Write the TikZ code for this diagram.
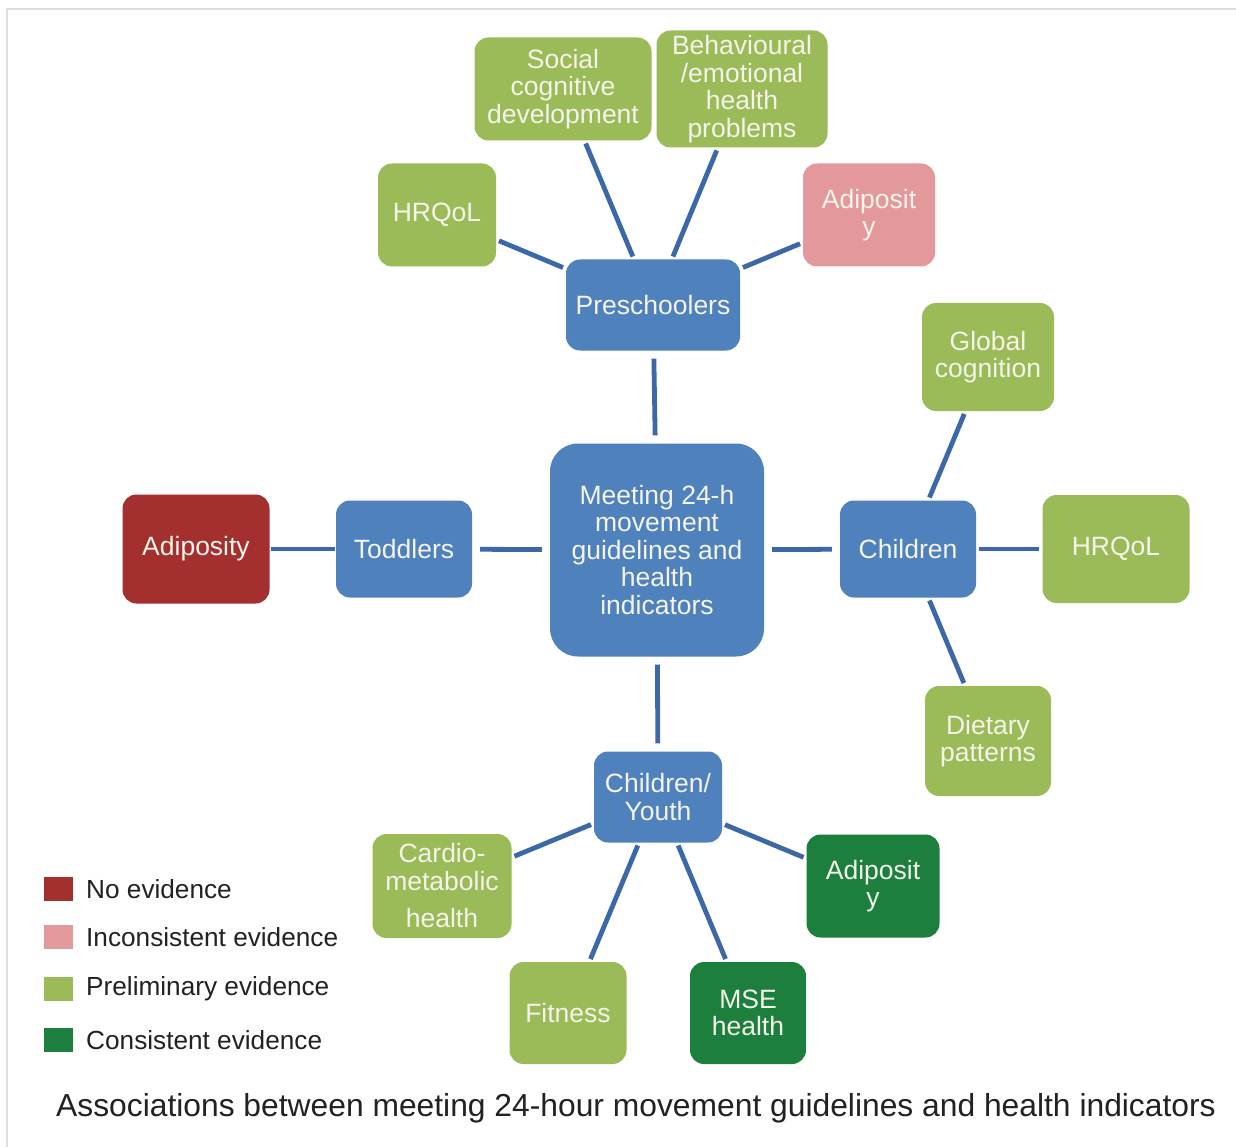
\documentclass[tikz,border=0pt]{standalone}
\usepackage{fontspec}
\setmainfont{Liberation Sans}
\definecolor{boxblue}{HTML}{4F81BD}
\definecolor{linkblue}{HTML}{3D68A8}
\definecolor{lgreen}{HTML}{9BBB59}
\definecolor{dgreen}{HTML}{1C7F3D}
\definecolor{pinkc}{HTML}{E3999B}
\definecolor{dred}{HTML}{A3302F}
\definecolor{boxtext}{HTML}{F4F4EA}
\definecolor{legtext}{HTML}{222222}
\definecolor{framec}{HTML}{DDDDDD}
\begin{document}
\begin{tikzpicture}[x=1pt,y=-1pt,
  box/.style={rounded corners=14pt, text=boxtext, align=center, inner sep=0pt,
    font=\fontsize{26.5}{27.5}\selectfont},
  bluebox/.style={box, fill=boxblue},
  lgbox/.style={box, fill=lgreen},
  dgbox/.style={box, fill=dgreen},
  pkbox/.style={box, fill=pinkc},
  rdbox/.style={box, fill=dred},
  link/.style={draw=linkblue, line width=4.8pt, shorten >=3pt, shorten <=3pt},
  axis/.style={draw=linkblue, line width=4.8pt, shorten >=8pt, shorten <=8pt},
  legsq/.style={minimum width=29pt, minimum height=24pt, inner sep=0pt},
  legtxt/.style={anchor=west, text=legtext, inner sep=0pt, font=\fontsize{26.2}{28}\selectfont}
]
\useasboundingbox (0,0) rectangle (1236,1147);
\fill[white] (0,0) rectangle (1236,1147);
\draw[framec, line width=1.5pt] (7,1147) -- (7,9) -- (1236,9);

% central
\node[bluebox, minimum width=214pt, minimum height=213pt, rounded corners=28pt] (c) at (657,550)
  {Meeting 24-h\\movement\\guidelines and\\health\\indicators};

% age groups
\node[bluebox, minimum width=174pt, minimum height=91pt] (pre) at (653,305) {Preschoolers};
\node[bluebox, minimum width=136pt, minimum height=97pt] (tod) at (404,549) {Toddlers};
\node[bluebox, minimum width=136pt, minimum height=97pt] (chi) at (908,549) {Children};
\node[bluebox, minimum width=128pt, minimum height=91pt] (cy) at (658,797) {Children/\\Youth};

% preschooler outcomes
\node[lgbox, minimum width=177pt, minimum height=103pt] (soc) at (563,89) {Social\\cognitive\\development};
\node[lgbox, minimum width=171pt, minimum height=117pt] (beh) at (742,89) {Behavioural\\/emotional\\health\\problems};
\node[lgbox, minimum width=118pt, minimum height=103pt] (hq1) at (437,215) {HRQoL};
\node[pkbox, minimum width=132pt, minimum height=103pt] (adp) at (869,215) {Adiposit\\y};

% toddler outcomes
\node[rdbox, minimum width=147pt, minimum height=109pt] (adr) at (196,549) {Adiposity};

% children outcomes
\node[lgbox, minimum width=132pt, minimum height=108pt] (glo) at (988,357) {Global\\cognition};
\node[lgbox, minimum width=147pt, minimum height=108pt] (hq2) at (1116,549) {HRQoL};
\node[lgbox, minimum width=126pt, minimum height=110pt] (die) at (988,741) {Dietary\\patterns};

% children/youth outcomes
\node[lgbox, minimum width=139pt, minimum height=104pt] (car) at (442,886) {Cardio-\\metabolic\\[10pt]health};
\node[lgbox, minimum width=117pt, minimum height=102pt] (fit) at (568,1013) {Fitness};
\node[dgbox, minimum width=116pt, minimum height=102pt] (mse) at (748,1013) {MSE\\health};
\node[dgbox, minimum width=133pt, minimum height=103pt] (adg) at (873,886) {Adiposit\\y};

% connectors
\draw[axis] (pre) -- (c);
\draw[axis] (tod) -- (c);
\draw[axis] (c) -- (chi);
\draw[axis] (c) -- (cy);
\draw[link, shorten >=1pt, shorten <=1pt] (adr) -- (tod);
\draw[link] (chi) -- (hq2);
\draw[link] (pre) -- (hq1);
\draw[link] (pre) -- (soc);
\draw[link] (pre) -- (beh);
\draw[link] (pre) -- (adp);
\draw[link] (chi) -- (glo);
\draw[link] (chi) -- (die);
\draw[link] (cy) -- (car);
\draw[link] (cy) -- (fit);
\draw[link] (cy) -- (mse);
\draw[link] (cy) -- (adg);

% legend
\node[legsq, fill=dred] (l1) at (58.5,888.5) {};
\node[legsq, fill=pinkc] (l2) at (58.5,936.5) {};
\node[legsq, fill=lgreen] (l3) at (58.5,988.5) {};
\node[legsq, fill=dgreen] (l4) at (58.5,1039.5) {};
\node[legtxt] (t1) at (86,889) {No evidence};
\node[legtxt] (t2) at (86,937) {Inconsistent evidence};
\node[legtxt] (t3) at (86,989) {Preliminary evidence};
\node[legtxt] (t4) at (86,1040) {Consistent evidence};

% caption
\node[text=legtext, inner sep=0pt, font=\fontsize{31.8}{34}\selectfont] (cap) at (636,1108)
  {Associations between meeting 24-hour movement guidelines and health indicators};
\end{tikzpicture}
\end{document}
